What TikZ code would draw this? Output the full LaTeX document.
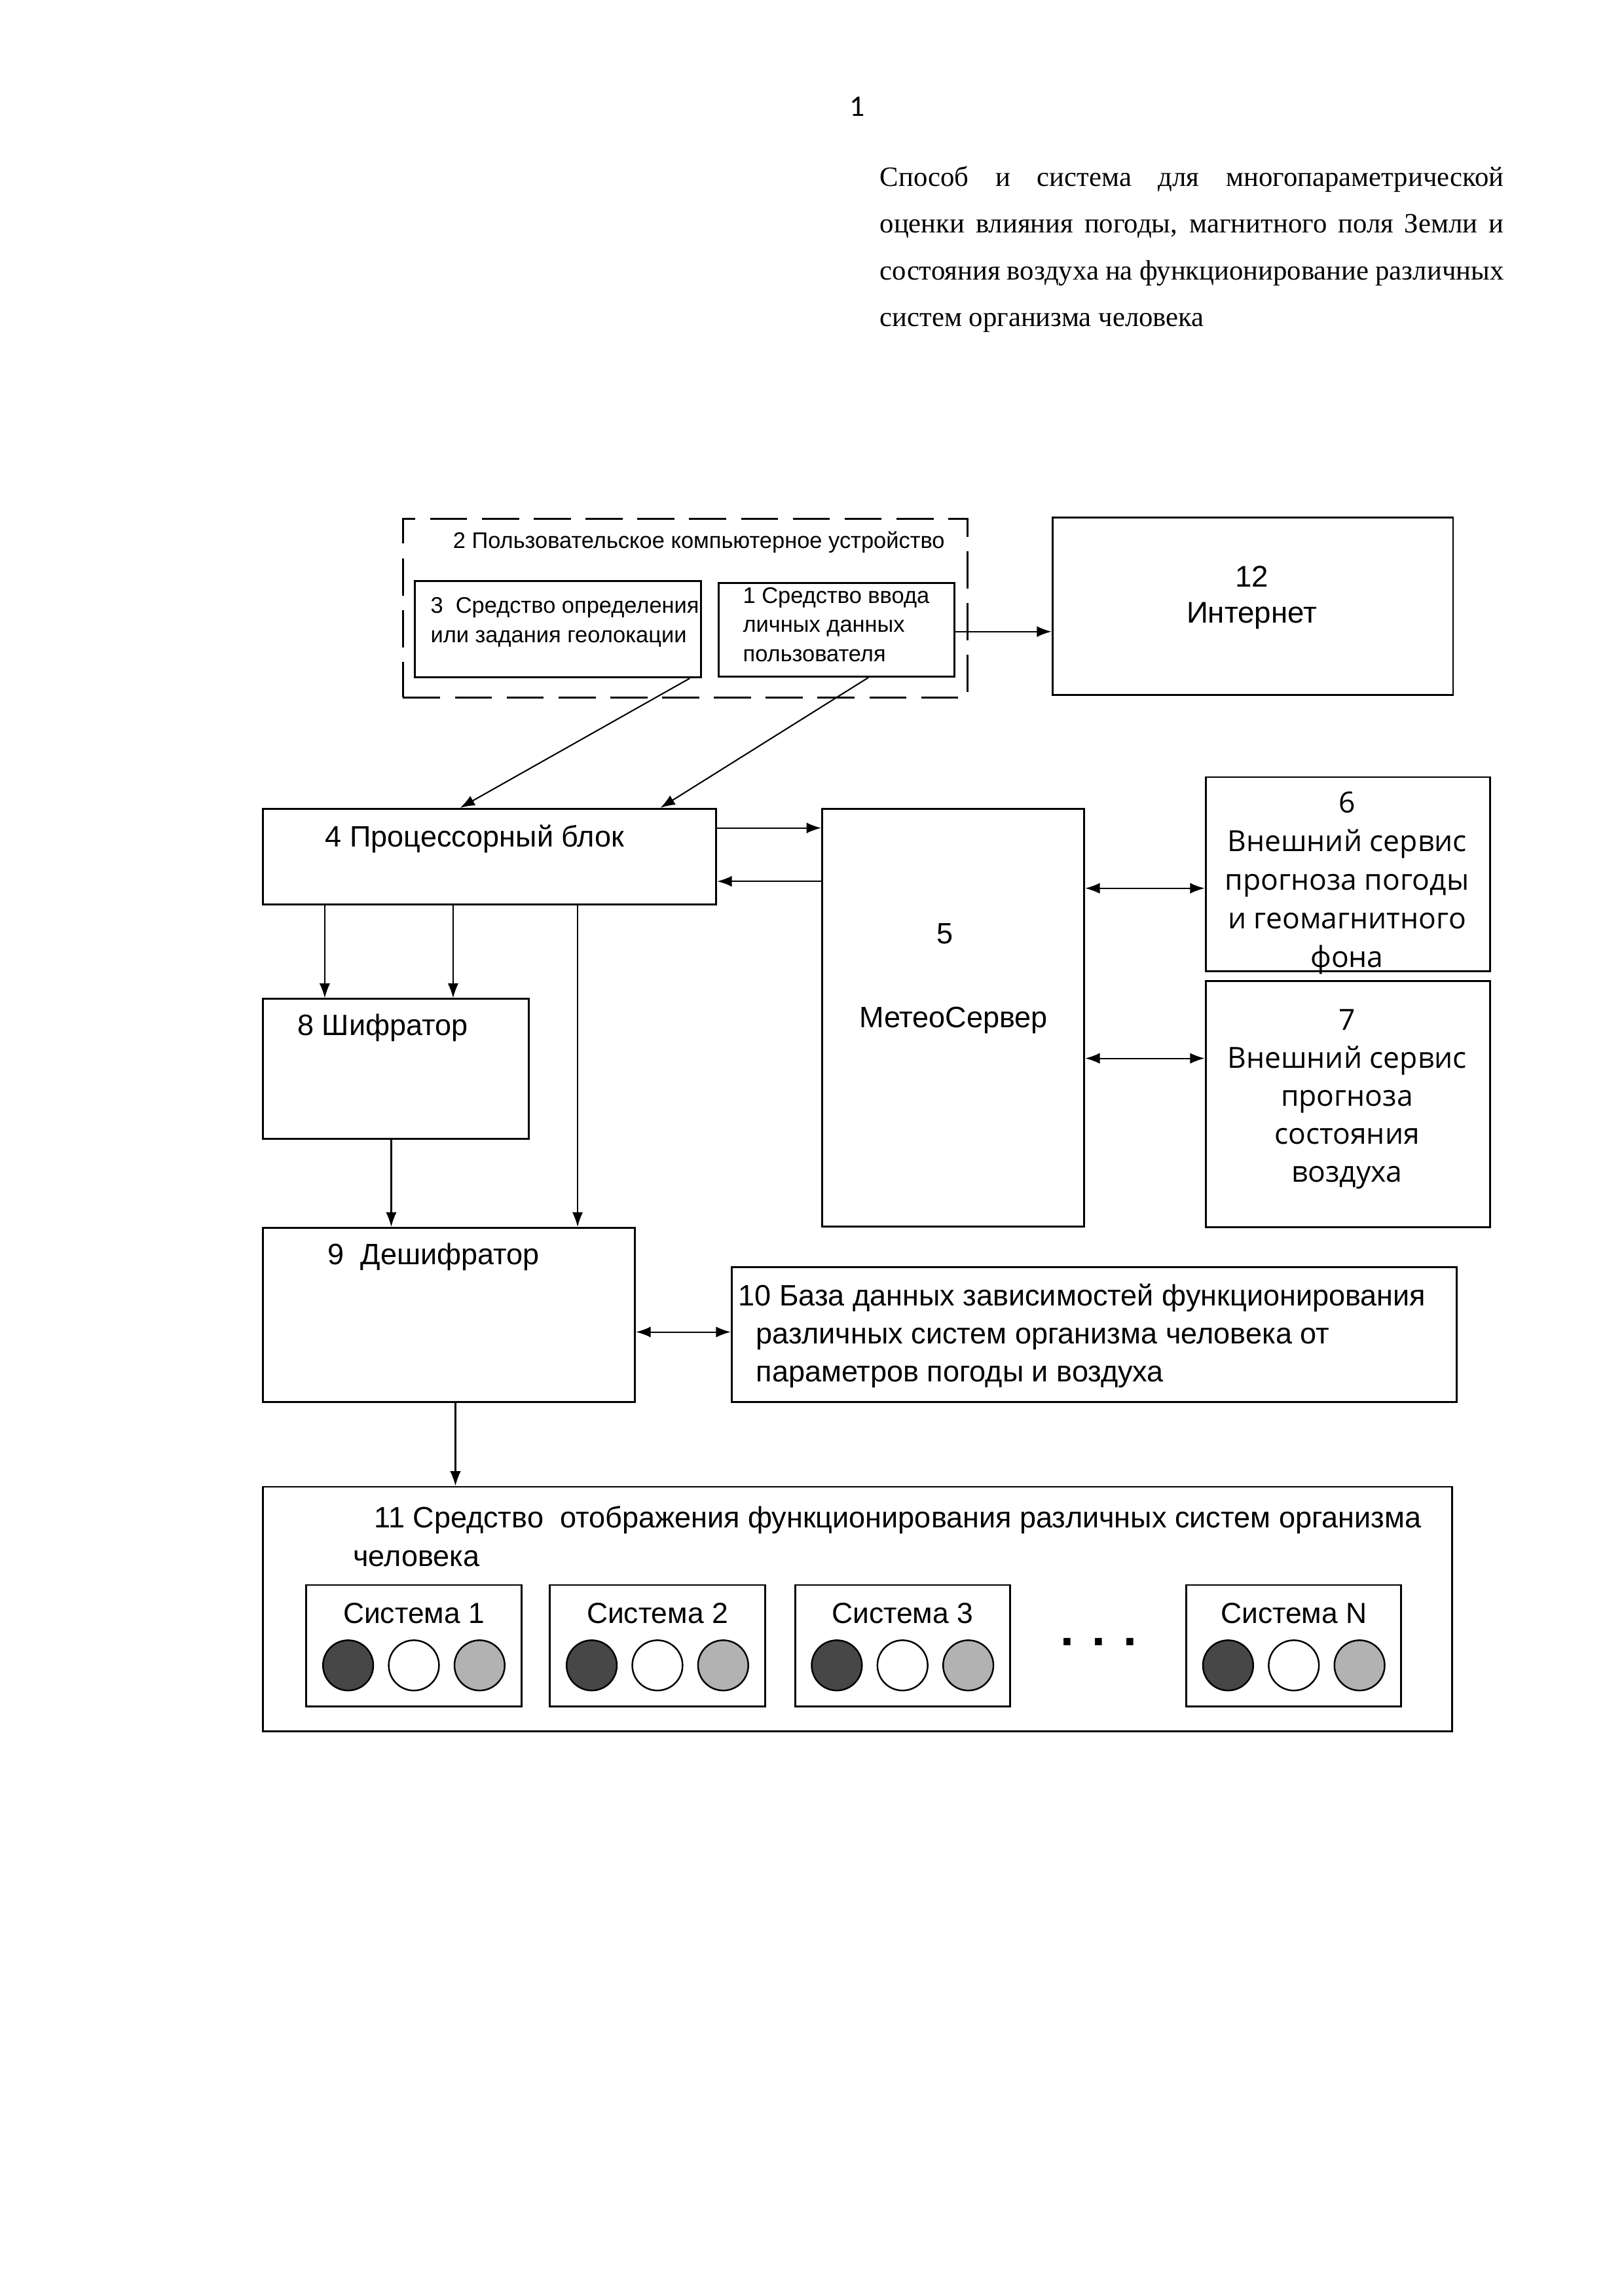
\documentclass[tikz,border=0pt]{standalone}
\usepackage{fontspec}
\setmainfont{Liberation Sans}
\newfontfamily\serifru{Liberation Serif}
\newfontfamily\opensans{Open Sans}
\newfontfamily\carlito{Carlito}
\usetikzlibrary{arrows.meta}

\begin{document}
\begin{tikzpicture}[->, >={Latex[length=1.9mm,width=1.4mm]}, x=1mm, y=-1mm, line width=0.5pt,
    box/.style={draw, line width=0.7pt, rectangle, anchor=north west, inner sep=0pt},
    txt/.style={inner sep=0pt, align=left, anchor=base west, font=\fontsize{10.85}{13.9}\selectfont},
    small/.style={inner sep=0pt, align=left, anchor=base west, font=\fontsize{8.3}{10.8}\selectfont},
    svc/.style={inner sep=0pt, align=center, anchor=base, font=\opensans\fontsize{10.7}{14.2}\selectfont},
    lamp/.style={circle, draw, line width=0.6pt, minimum size=6.5mm, inner sep=0pt}]
    \useasboundingbox (0,0) rectangle (210,297);

    % Heading
    \node[font=\carlito\fontsize{11}{13}\selectfont] (page) at (110.9,13.8) {1};
    \node[anchor=base west, inner sep=0pt, text width=80.7mm, align=justify,
      font=\serifru\fontsize{10.3}{17.2}\selectfont] (title) at (113.7,24.1)
      {Способ и система для многопараметрической\linebreak
       оценки влияния погоды, магнитного поля Земли и\linebreak
       состояния воздуха на функционирование различных\linebreak
       систем организма человека};

    % Boxes
    \node[box, dashed, dash pattern=on 4.8mm off 1.9mm, minimum width=73mm, minimum height=23.1mm] (B2) at (52.0,67.0) {};
    \foreach \n/\x/\y/\w/\h in {3/53.5/75.0/37.0/12.5, 1/92.8/75.3/30.5/12.1, 12/136.0/66.8/51.8/23.0,
        4/33.9/104.5/58.6/12.4, 5/106.2/104.5/33.9/54.0, 6/155.8/100.4/36.8/25.1, 7/155.8/126.8/36.8/31.8,
        8/33.9/129.1/34.4/18.1, 9/33.9/158.7/48.1/22.5, 10/94.5/163.8/93.8/17.4, 11/33.9/192.2/153.8/31.6}
    \node[box, minimum width=\w mm, minimum height=\h mm] (B\n) at (\x,\y) {};

    % Labels (base = last line)
    \node[small] (T2) at (58.5,70.9) {2 Пользовательское компьютерное устройство};
    \node[small] (T3) at (55.6,83.1) {3\ \ Средство определения\\или задания геолокации};
    \node[small] (T1) at (96.0,85.6) {1 Средство ввода\\личных данных\\пользователя};
    \node[txt, anchor=base, align=center, font=\fontsize{11}{13.2}\selectfont] (T12) at (161.9,80.6) {12\\Интернет};
    \node[txt] (T4) at (42.0,109.5) {4 Процессорный блок};
    \node[txt, anchor=base] (T5) at (122.2,122.1) {5};
    \node[txt, anchor=base] (T5b) at (123.3,132.9) {МетеоСервер};
    \node[svc] (T6) at (174.2,125.1) {6\\Внешний сервис\\прогноза погоды\\и геомагнитного\\фона};
    \node[svc, font=\opensans\fontsize{10.7}{14}\selectfont] (T7) at (174.2,152.9) {7\\Внешний сервис\\прогноза\\состояния\\воздуха};
    \node[txt] (T8) at (38.4,133.9) {8 Шифратор};
    \node[txt] (T9) at (42.3,163.6) {9\ \ Дешифратор};
    \node[txt] (T10) at (95.4,178.7) {10 База данных зависимостей функционирования\\
      \hspace*{2.3mm}различных систем организма человека от\\\hspace*{2.3mm}параметров погоды и воздуха};
    \node[txt, font=\fontsize{10.85}{14.2}\selectfont] (T11) at (45.6,202.6)
      {\hspace*{2.7mm}11 Средство\ \ отображения функционирования различных систем организма\\человека};

    % Systems
    \foreach \i/\x/\s in {1/39.5/1, 2/71.0/2, 3/102.7/3, 4/153.3/N} {
      \node[box, minimum width=27.8mm, minimum height=15.7mm] (S\i) at (\x,204.9) {};
      \node[font=\fontsize{10.7}{12}\selectfont, inner sep=0pt] (L\i) at ([yshift=4.2mm]S\i.center) {Система \s};
      \node[lamp, fill=black!72] (D\i) at ([xshift=-8.5mm,yshift=-2.55mm]S\i.center) {};
      \node[lamp, fill=white] (W\i) at ([yshift=-2.55mm]S\i.center) {};
      \node[lamp, fill=black!30] (G\i) at ([xshift=8.5mm,yshift=-2.55mm]S\i.center) {};
    }
    \node[font=\bfseries\fontsize{18}{20}\selectfont, inner sep=0pt] (dots) at (142.1,212.4) {. . .};

    % Edges
    \draw (B1.east |- 0,81.7) -- (B12.west |- 0,81.7);
    \draw (B3.south -| 89.2,0) -- (B4.north -| 59.5,0);
    \draw (B1.south -| 112.3,0) -- (B4.north -| 85.4,0);
    \draw (B4.east |- 0,107.1) -- (B5.west |- 0,107.1);
    \draw (B5.west |- 0,114.0) -- (B4.east |- 0,114.0);
    \draw[<->] (B5.east |- 0,114.9) -- (B6.west |- 0,114.9);
    \draw[<->] (B5.east |- 0,136.9) -- (B7.west |- 0,136.9);
    \foreach \x in {42.0,58.6}
    \draw (B4.south -| \x,0) -- (B8.north -| \x,0);
    \draw (B4.south -| 74.7,0) -- (B9.north -| 74.7,0);
    \draw (B8.south -| 50.6,0) -- (B9.north -| 50.6,0);
    \draw[<->] (B9.east |- 0,172.3) -- (B10.west |- 0,172.3);
    \draw (B9.south -| 58.9,0) -- (B11.north -| 58.9,0);
\end{tikzpicture}
\end{document}
